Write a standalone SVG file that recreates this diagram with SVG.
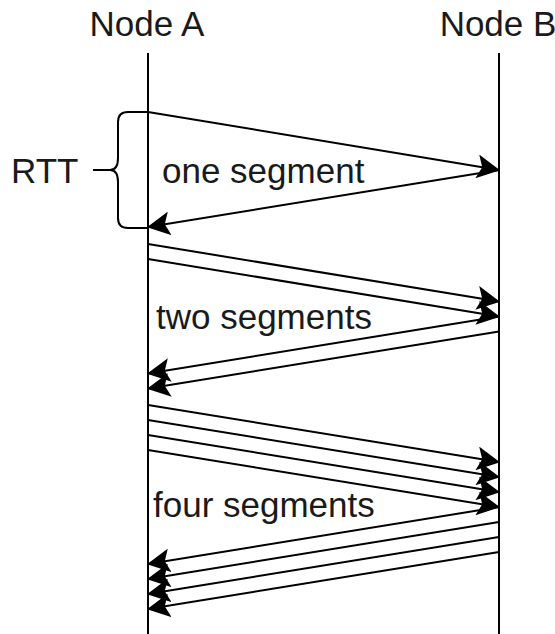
<svg xmlns="http://www.w3.org/2000/svg" width="555" height="634" viewBox="0 0 555 634">
  <style>
    .lbl { font-family: "Liberation Sans", Arial, sans-serif; font-size: 35px; fill: #1a1a1a; }
    .life { stroke: #000; stroke-width: 2; fill: none; }
    .msg { stroke: #000; stroke-width: 2; fill: none; marker-end: url(#arrow); }
    .brace { stroke: #000; stroke-width: 2; fill: none; }
  </style>
  <defs>
    <marker id="arrow" markerUnits="userSpaceOnUse" viewBox="0 0 23 24" markerWidth="23" markerHeight="24" refX="22" refY="12" orient="auto">
      <path d="M0,0 L23,12 L0,24 L5,12 Z" fill="#000"/>
    </marker>
  </defs>

  <rect width="555" height="634" fill="#fff"/>

  <!-- lifeline of Node A -->
  <g id="node-a">
    <text class="lbl" x="147" y="36" text-anchor="middle">Node A</text>
    <line class="life" x1="148" y1="53" x2="148" y2="634"/>
  </g>

  <!-- lifeline of Node B -->
  <g id="node-b">
    <text class="lbl" x="498" y="36" text-anchor="middle">Node B</text>
    <line class="life" x1="499" y1="53" x2="499" y2="634"/>
  </g>

  <!-- round-trip time bracket -->
  <g id="rtt">
    <path class="brace" d="M148,112 H128 Q118,112 118,122 V158 Q118,170 110,170 Q118,170 118,182 V218 Q118,228 128,228 H148"/>
    <line class="brace" x1="93" y1="170" x2="110" y2="170"/>
    <text class="lbl" x="11" y="183">RTT</text>
  </g>

  <!-- round labels -->
  <g id="round-labels">
    <text class="lbl" x="162" y="183">one segment</text>
    <text class="lbl" x="156" y="329">two segments</text>
    <text class="lbl" x="153" y="517">four segments</text>
  </g>

  <!-- segment and acknowledgement messages -->
  <g id="connectors">
    <!-- one segment -->
    <line class="msg" x1="148" y1="112" x2="499" y2="170"/>
    <line class="msg" x1="499" y1="170" x2="148" y2="227"/>
    <!-- two segments -->
    <line class="msg" x1="148" y1="244" x2="499" y2="301.5"/>
    <line class="msg" x1="148" y1="259" x2="499" y2="316.5"/>
    <line class="msg" x1="499" y1="316.5" x2="148" y2="373.5"/>
    <line class="msg" x1="499" y1="331.5" x2="148" y2="388.5"/>
    <!-- four segments -->
    <line class="msg" x1="148" y1="405" x2="499" y2="462"/>
    <line class="msg" x1="148" y1="420" x2="499" y2="477"/>
    <line class="msg" x1="148" y1="435" x2="499" y2="492"/>
    <line class="msg" x1="148" y1="450" x2="499" y2="507"/>
    <line class="msg" x1="499" y1="507" x2="148" y2="564"/>
    <line class="msg" x1="499" y1="522" x2="148" y2="579"/>
    <line class="msg" x1="499" y1="537" x2="148" y2="594"/>
    <line class="msg" x1="499" y1="552" x2="148" y2="609"/>
  </g>
</svg>
